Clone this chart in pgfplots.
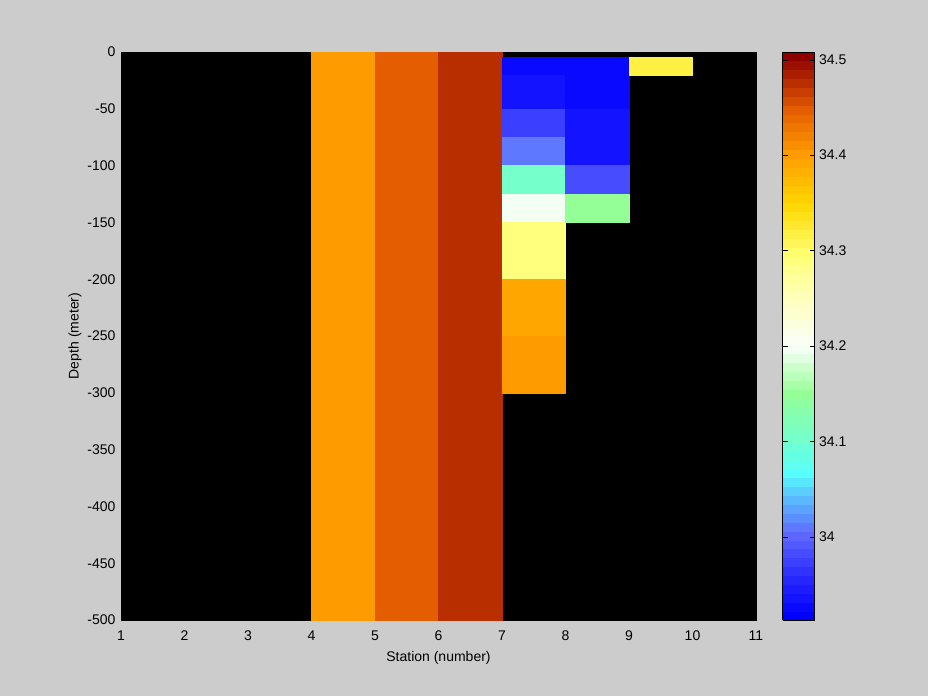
\documentclass[border=0pt]{standalone}
\usepackage{pgfplots}
\pgfplotsset{compat=1.18}
\usepgfplotslibrary{patchplots}
\usepackage{fontspec}
\setmainfont{Liberation Sans}
\definecolor{bggray}{RGB}{204,204,204}

\pgfplotsset{
  colormap={salt}{
    rgb255(0pt)=(0,0,255);
    rgb255(40pt)=(40,40,255);
    rgb255(87pt)=(95,105,255);
    rgb255(130pt)=(90,200,255);
    rgb255(150pt)=(85,255,255);
    rgb255(187pt)=(115,255,205);
    rgb255(237pt)=(150,255,150);
    rgb255(287pt)=(250,255,250);
    rgb255(337pt)=(255,255,190);
    rgb255(387pt)=(255,255,110);
    rgb255(437pt)=(255,215,0);
    rgb255(487pt)=(255,160,0);
    rgb255(537pt)=(230,95,0);
    rgb255(595pt)=(140,0,0)
  },
  colormap={salt64}{samples of colormap={64 of salt}},
}

% cells: x y c, four vertices per rectangle
\pgfplotstableread{
x y c
4 0 34.40
5 0 34.40
5 -500 34.40
4 -500 34.40
5 0 34.45
6 0 34.45
6 -500 34.45
5 -500 34.45
6 0 34.48
7 0 34.48
7 -500 34.48
6 -500 34.48
7 -5 33.93
8 -5 33.93
8 -20 33.93
7 -20 33.93
7 -20 33.94
8 -20 33.94
8 -50 33.94
7 -50 33.94
7 -50 33.975
8 -50 33.975
8 -75 33.975
7 -75 33.975
7 -75 34.01
8 -75 34.01
8 -100 34.01
7 -100 34.01
7 -100 34.10
8 -100 34.10
8 -125 34.10
7 -125 34.10
7 -125 34.195
8 -125 34.195
8 -150 34.195
7 -150 34.195
7 -150 34.29
8 -150 34.29
8 -200 34.29
7 -200 34.29
7 -200 34.39
8 -200 34.39
8 -250 34.39
7 -250 34.39
7 -250 34.40
8 -250 34.40
8 -300 34.40
7 -300 34.40
8 -5 33.93
9 -5 33.93
9 -50 33.93
8 -50 33.93
8 -50 33.94
9 -50 33.94
9 -100 33.94
8 -100 33.94
8 -100 33.98
9 -100 33.98
9 -125 33.98
8 -125 33.98
8 -125 34.15
9 -125 34.15
9 -150 34.15
8 -150 34.15
9 -5 34.32
10 -5 34.32
10 -20 34.32
9 -20 34.32
}\cells

\begin{document}
\begin{tikzpicture}[x=1pt,y=1pt]
\fill[bggray] (0,0) rectangle (928,696);
\begin{axis}[
  at={(121pt,76pt)}, anchor=south west,
  scale only axis, width=635pt, height=568pt,
  xmin=1, xmax=11, ymin=-500, ymax=0,
  xtick={1,2,...,11}, ytick={-500,-450,...,0},
  axis background/.style={fill=black},
  axis line style={black},
  tick align=inside, tick style={black},
  /pgf/number format/assume math mode=true,
  ticklabel style={font=\fontsize{14}{16}\selectfont},
  xticklabel style={yshift=-7pt},
  yticklabel style={xshift=-2pt},
  xlabel={Station (number)}, ylabel={Depth (meter)},
  label style={font=\fontsize{14}{16}\selectfont},
  xlabel style={at={(axis description cs:0.5,-0.0669)}, anchor=center},
  ylabel style={at={(axis description cs:-0.0724,0.5)}, anchor=center},
  colormap name=salt64,
  colormap access=piecewise constant,
  point meta min=33.913, point meta max=34.508,
  colorbar,
  colorbar style={
    at={(parent axis.south east)}, anchor=south west, xshift=18pt,
    scale only axis, width=32pt, height=568pt,
    ytick={34,34.1,34.2,34.3,34.4,34.5},
    yticklabels={34,34.1,34.2,34.3,34.4,34.5},
    tick align=inside, ytick pos=both, yticklabel pos=right,
    major tick length=5pt, tick style={black},
    yticklabel style={font=\fontsize{14}{16}\selectfont, xshift=1pt},
    axis line style={black},
  },
]
\addplot[patch, patch type=rectangle, shader=flat, point meta=explicit]
  table[x=x, y=y, meta=c] {\cells};
\end{axis}
\end{tikzpicture}
\end{document}
